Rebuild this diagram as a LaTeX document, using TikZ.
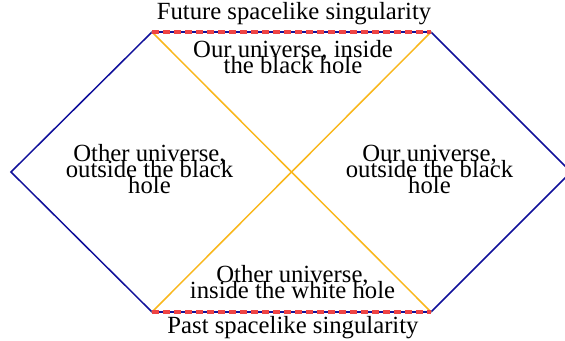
\documentclass[tikz,border=0pt]{standalone}
\usepackage{fontspec}
\setmainfont{Liberation Serif}
\usepackage{xcolor}
\usetikzlibrary{positioning}
\definecolor{bdrycol}{HTML}{10109A}
\definecolor{horcol}{HTML}{F9B71C}
\definecolor{singcol}{HTML}{EE4444}
\newcommand{\tightlines}{\fontsize{12.35pt}{8pt}\selectfont\lineskiplimit=-20pt\relax}

\begin{document}
\begin{tikzpicture}[
  x=0.5pt, y=-0.5pt,
  bdry/.style={draw=bdrycol, line width=0.75pt},
  horizon/.style={draw=horcol, line width=0.75pt},
  sing/.style={draw=singcol, line width=1.6pt, dash pattern=on 3.5pt off 2pt},
  region/.style={align=center, inner sep=0pt, font=\tightlines},
  caption/.style={font=\fontsize{12.35pt}{14pt}\selectfont, inner sep=0pt, anchor=base},
]
\useasboundingbox (0,0) rectangle (565,341);

% =================== corners of the diagram ===================
\coordinate (left)  at (11,172);
\coordinate (tl)    at (152,32);
\coordinate (tr)    at (431,32);
\coordinate (right) at (571,172);
\coordinate (br)    at (431,312);
\coordinate (bl)    at (152,312);

% Outer boundary
\draw[bdry] (tl) -- (left) -- (bl);
\draw[bdry] (tr) -- (right) -- (br);
\draw[bdry] (tl) -- (tr);
\draw[bdry] (bl) -- (br);

% Horizons
\draw[horizon] (tl) -- (br);
\draw[horizon] (tr) -- (bl);

% Singularities
\draw[sing] (tl) -- (tr);
\draw[sing] (bl) -- (br);

% =================== region labels ===================
\node[region] (bhole)  at (293,57.5)  {Our universe, inside\\the black hole};
\node[region] (other)  at (149.5,169) {Other universe,\\outside the black\\hole};
\node[region] (ours)   at (429.5,169) {Our universe,\\outside the black\\hole};
\node[region] (whole)  at (292.5,282) {Other universe,\\inside the white hole};

% Singularity labels
\node[caption] (future) at (294,20)  {Future spacelike singularity};
\node[caption] (past)   at (293,333) {Past spacelike singularity};

\end{tikzpicture}
\end{document}
